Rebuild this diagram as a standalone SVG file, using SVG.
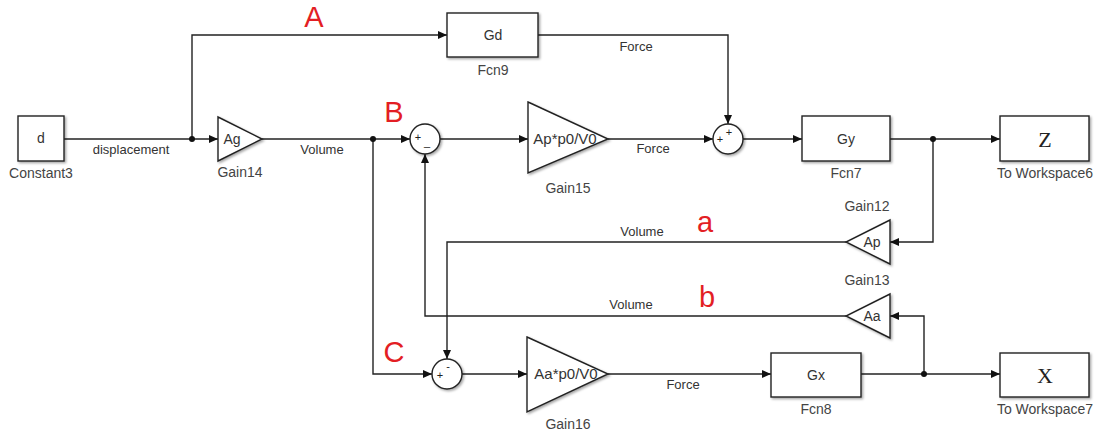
<svg xmlns="http://www.w3.org/2000/svg" width="1103" height="435" viewBox="0 0 1103 435">
<style>
.blk{fill:#fff;stroke:#222;stroke-width:1.4;filter:url(#sh)}
.in{font-family:"Liberation Sans",Arial,sans-serif;font-size:14px;fill:#333;text-anchor:middle}
.nm{font-family:"Liberation Sans",Arial,sans-serif;font-size:14px;fill:#444;text-anchor:middle}
.sig{font-family:"Liberation Sans",Arial,sans-serif;font-size:13px;fill:#333;text-anchor:middle}
.ws{font-family:"Liberation Serif","Times New Roman",serif;font-size:22px;fill:#222;text-anchor:middle}
.red{font-family:"Liberation Sans",Arial,sans-serif;font-size:29px;fill:#e31e24;text-anchor:middle}
.sgn{font-family:"Liberation Sans",Arial,sans-serif;font-size:11px;fill:#222;text-anchor:middle}
.wire{fill:none;stroke:#222;stroke-width:1.4}
.arw{marker-end:url(#arr)}
.dot{fill:#111}
</style>
<defs>
<filter id="sh" x="-20%" y="-20%" width="140%" height="140%">
<feDropShadow dx="1.5" dy="1.5" stdDeviation="1" flood-color="#000" flood-opacity="0.35"/>
</filter>
<marker id="arr" markerWidth="9" markerHeight="8" refX="9" refY="4" orient="auto" markerUnits="userSpaceOnUse">
<path d="M0,0 L9,4 L0,8 z" fill="#111"/>
</marker>
</defs>
<rect width="1103" height="435" fill="#fff"/>

<g id="connectors">
<path class="wire arw" d="M64,139 H218"/>
<path class="wire arw" d="M192,139 V35 H447"/>
<path class="wire arw" d="M538,35 H728 V124"/>
<path class="wire arw" d="M262,139 H410"/>
<path class="wire arw" d="M373,139 V374 H432"/>
<path class="wire arw" d="M440,139 H528"/>
<path class="wire arw" d="M608,139 H713"/>
<path class="wire arw" d="M743,139 H802"/>
<path class="wire arw" d="M890,139 H1000"/>
<path class="wire arw" d="M933,139 V242 H890"/>
<path class="wire arw" d="M846,242 H447 V359"/>
<path class="wire arw" d="M924,374 V316 H890"/>
<path class="wire arw" d="M846,316 H425 V154"/>
<path class="wire arw" d="M462,374 H527"/>
<path class="wire arw" d="M608,374 H771"/>
<path class="wire arw" d="M861,374 H1000"/>
<circle class="dot" cx="192" cy="139" r="3"/>
<circle class="dot" cx="373" cy="139" r="3"/>
<circle class="dot" cx="933" cy="139" r="3"/>
<circle class="dot" cx="924" cy="374" r="3"/>
<text class="sig" x="131" y="154">displacement</text>
<text class="sig" x="322" y="154">Volume</text>
<text class="sig" x="636" y="51">Force</text>
<text class="sig" x="653" y="153">Force</text>
<text class="sig" x="642" y="236">Volume</text>
<text class="sig" x="631" y="309">Volume</text>
<text class="sig" x="683" y="389">Force</text>
</g>

<g id="Constant3">
<rect class="blk" x="18" y="116" width="46" height="45"/>
<text class="in" x="41" y="143">d</text>
<text class="nm" x="41" y="178">Constant3</text>
</g>
<g id="Gain14">
<polygon class="blk" points="218,117 262,139 218,161"/>
<text class="in" x="232" y="144">Ag</text>
<text class="nm" x="240" y="177">Gain14</text>
</g>
<g id="Fcn9">
<rect class="blk" x="447" y="13" width="91" height="44"/>
<text class="in" x="493" y="40">Gd</text>
<text class="nm" x="493" y="75">Fcn9</text>
</g>
<g id="SumB">
<circle class="blk" cx="425" cy="139" r="15"/>
<text class="sgn" x="418" y="141">+</text>
<text class="sgn" x="427" y="146">_</text>
</g>
<g id="Gain15">
<polygon class="blk" points="528,102 608,139 528,173"/>
<text class="in" x="565" y="144" style="font-size:15px">Ap*p0/V0</text>
<text class="nm" x="568" y="193">Gain15</text>
</g>
<g id="SumTop">
<circle class="blk" cx="728" cy="139" r="15"/>
<text class="sgn" x="720" y="143">+</text>
<text class="sgn" x="729" y="136">+</text>
</g>
<g id="Fcn7">
<rect class="blk" x="802" y="116" width="88" height="45"/>
<text class="in" x="846" y="144">Gy</text>
<text class="nm" x="846" y="178">Fcn7</text>
</g>
<g id="ToWorkspace6">
<rect class="blk" x="1000" y="116" width="89" height="45"/>
<text class="ws" x="1045" y="147">Z</text>
<text class="nm" x="1045" y="178">To Workspace6</text>
</g>
<g id="Gain12">
<polygon class="blk" points="890,220 846,242 890,264"/>
<text class="in" x="872" y="247">Ap</text>
<text class="nm" x="867" y="211">Gain12</text>
</g>
<g id="Gain13">
<polygon class="blk" points="890,294 846,316 890,338"/>
<text class="in" x="872" y="321">Aa</text>
<text class="nm" x="867" y="285">Gain13</text>
</g>
<g id="SumC">
<circle class="blk" cx="447" cy="374" r="15"/>
<text class="sgn" x="440" y="379">+</text>
<text class="sgn" x="448" y="370">-</text>
</g>
<g id="Gain16">
<polygon class="blk" points="527,337 608,374 527,412"/>
<text class="in" x="566" y="379" style="font-size:15px">Aa*p0/V0</text>
<text class="nm" x="568" y="429">Gain16</text>
</g>
<g id="Fcn8">
<rect class="blk" x="771" y="353" width="90" height="44"/>
<text class="in" x="816" y="380">Gx</text>
<text class="nm" x="816" y="414">Fcn8</text>
</g>
<g id="ToWorkspace7">
<rect class="blk" x="1000" y="353" width="89" height="44"/>
<text class="ws" x="1045" y="383">X</text>
<text class="nm" x="1045" y="414">To Workspace7</text>
</g>

<g id="annotations">
<text class="red" x="314" y="27">A</text>
<text class="red" x="394" y="122">B</text>
<text class="red" x="394" y="362">C</text>
<text class="red" x="705" y="232">a</text>
<text class="red" x="707" y="307">b</text>
</g>
</svg>
